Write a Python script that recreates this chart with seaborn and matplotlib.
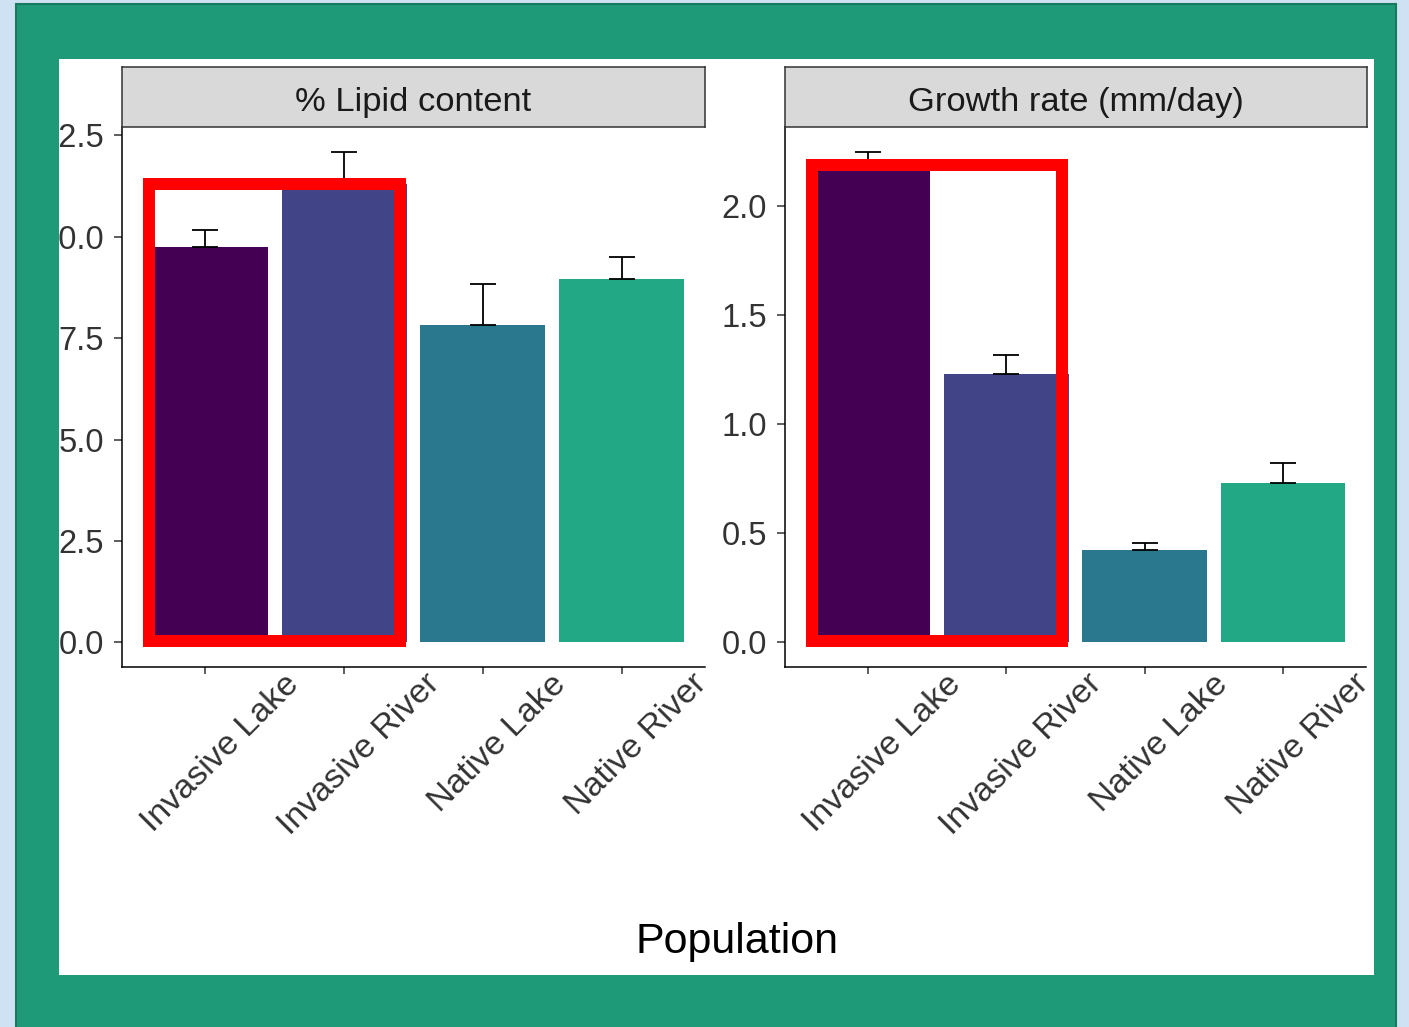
import numpy as np
import pandas as pd
import matplotlib
matplotlib.use("Agg")
import matplotlib.pyplot as plt
import matplotlib.transforms as mtransforms
from matplotlib.patches import Rectangle
import seaborn as sns

# ---- data -------------------------------------------------------------
populations = ["Invasive Lake", "Invasive River", "Native Lake", "Native River"]
lipid_mean = [9.74, 11.30, 7.82, 8.96]
lipid_se = [0.42, 0.80, 1.01, 0.54]
growth_mean = [2.18, 1.23, 0.424, 0.733]
growth_se = [0.072, 0.088, 0.032, 0.092]
lipid_ticks = [0.0, 2.5, 5.0, 7.5, 10.0, 12.5]
growth_ticks = [0.0, 0.5, 1.0, 1.5, 2.0]
panel_titles = ["% Lipid content", "Growth rate (mm/day)"]
x_title = "Population"
bar_colors = ["#440154", "#414487", "#2A788E", "#22A884"]

# ---- style ------------------------------------------------------------
sns.set_theme(style="white")
plt.rcParams["font.family"] = ["Liberation Sans", "DejaVu Sans"]

W, H = 1409, 1027
fig = plt.figure(figsize=(W / 100, H / 100), dpi=100)
fig.patch.set_facecolor("#CFE2F3")


def box(x0, y0, x1, y1):
    """Pixel box (top-left origin) -> figure-fraction [left, bottom, w, h]."""
    return [x0 / W, 1 - y1 / H, (x1 - x0) / W, (y1 - y0) / H]


# green frame and white plotting card
fig.add_artist(Rectangle((16 / W, -0.01), (1396 - 16) / W, 1 - 4 / H + 0.01,
                         transform=fig.transFigure, facecolor="#1F9A79",
                         edgecolor="#17795D", linewidth=1.5, zorder=-10))
l, b, w, h = box(59, 59, 1374, 975)
fig.add_artist(Rectangle((l, b), w, h, transform=fig.transFigure,
                         facecolor="white", edgecolor="none", zorder=-9))
card_clip = mtransforms.TransformedBbox(
    mtransforms.Bbox.from_bounds(l, b, w, h), fig.transFigure)

panels = [
    (box(122, 127, 705, 667), box(122, 67, 705, 127),
     lipid_mean, lipid_se, lipid_ticks, panel_titles[0]),
    (box(785, 127, 1366, 667), box(785, 67, 1367, 127),
     growth_mean, growth_se, growth_ticks, panel_titles[1]),
]

x_shift = mtransforms.ScaledTranslation(15 / 100, 0, fig.dpi_scale_trans)

for rect, strip_rect, means, ses, yticks, title in panels:
    ax = fig.add_axes(rect)
    df = pd.DataFrame({"Population": populations, "value": means})
    sns.barplot(data=df, x="Population", y="value", hue="Population",
                palette=bar_colors, width=0.9, saturation=1, errorbar=None,
                legend=False, ax=ax, linewidth=0)
    pos = np.arange(len(populations))
    ax.errorbar(pos, means, yerr=[np.zeros(len(means)), ses], fmt="none",
                ecolor="black", elinewidth=1.3, capsize=9.7, capthick=1.3,
                zorder=3)

    top = max(m + s for m, s in zip(means, ses))
    ax.set_ylim(-0.05 * top, 1.05 * top)
    ax.set_xlim(-0.6, len(populations) - 0.4)

    for side in ("top", "right"):
        ax.spines[side].set_visible(False)
    for side in ("left", "bottom"):
        ax.spines[side].set_color("black")
        ax.spines[side].set_linewidth(1.1)

    ax.set_xlabel("")
    ax.set_ylabel("")
    ax.set_yticks(yticks)
    ax.set_yticklabels([f"{t:.1f}" for t in yticks])
    ax.set_xticks(pos)
    ax.set_xticklabels(populations, rotation=45, ha="center", va="top",
                       rotation_mode="default")
    ax.tick_params(axis="both", direction="out", width=1.1,
                   color="#333333", labelcolor="#333333",
                   left=True, bottom=True)
    ax.tick_params(axis="y", length=6, pad=7, labelsize=23.5)
    ax.tick_params(axis="x", length=5, pad=-4, labelsize=24.5)
    for lbl in ax.get_xticklabels():
        lbl.set_transform(lbl.get_transform() + x_shift)
    for lbl in ax.get_yticklabels():
        lbl.set_clip_on(True)
        lbl.set_clip_box(card_clip)

    # facet strip
    sax = fig.add_axes(strip_rect)
    sax.set_facecolor("#D9D9D9")
    sax.set_xticks([])
    sax.set_yticks([])
    for sp in sax.spines.values():
        sp.set_color("#333333")
        sp.set_linewidth(1.1)
    sax.text(0.5, 0.47, title, ha="center", va="center_baseline",
             fontsize=24.8, color="#1A1A1A", transform=sax.transAxes)

fig.text(737 / W, 1 - 942 / H, x_title, ha="center", va="center",
         fontsize=31, color="black")

# highlight boxes around the invasive populations
for x0, y0, x1, y1 in [(149, 184, 399.5, 641), (812, 165, 1062, 641)]:
    l, b, w, h = box(x0, y0, x1, y1)
    fig.add_artist(Rectangle((l, b), w, h, transform=fig.transFigure,
                             fill=False, edgecolor="#FF0000", linewidth=8.64,
                             joinstyle="miter", zorder=10))

fig.savefig("out.png", dpi=100, facecolor=fig.get_facecolor())
